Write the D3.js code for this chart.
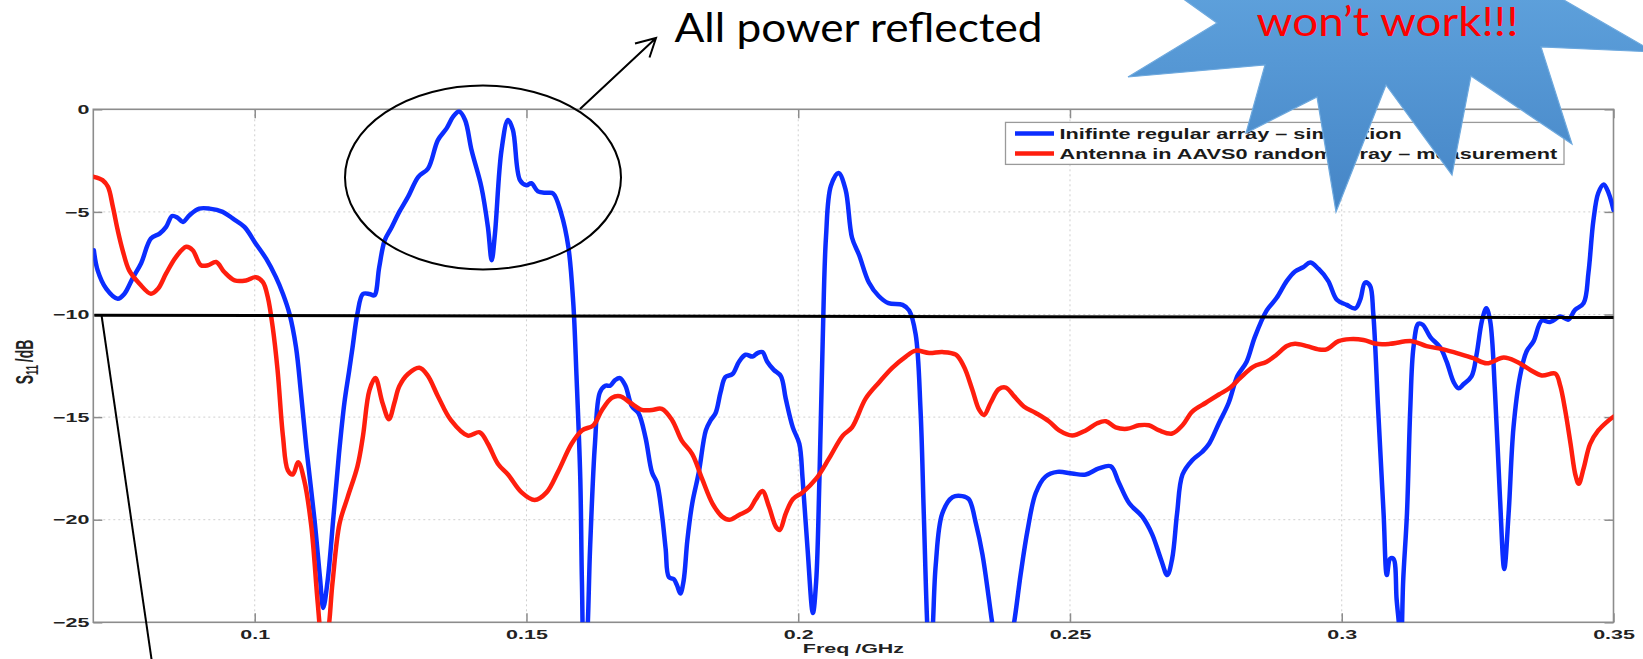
<!DOCTYPE html>
<html>
<head>
<meta charset="utf-8">
<script src="https://cdn.jsdelivr.net/npm/d3@7"></script>
<style>
  html, body { margin: 0; padding: 0; background: #fff; }
  svg { display: block; }
</style>
</head>
<body>
<script>
// ---- data: return loss S11 (dB) versus frequency (GHz) ----
const freqSim = [0.0704,0.0711,0.0727,0.0748,0.0760,0.0776,0.0791,0.0809,0.0825,0.0837,0.0848,0.0858,0.0868,0.0880,0.0898,0.0917,0.0941,0.0960,0.0981,0.1002,0.1021,0.1039,0.1052,0.1064,0.1076,0.1085,0.1095,0.1110,0.1120,0.1126,0.1134,0.1145,0.1155,0.1165,0.1174,0.1180,0.1189,0.1199,0.1211,0.1220,0.1229,0.1239,0.1251,0.1266,0.1282,0.1301,0.1319,0.1337,0.1353,0.1365,0.1376,0.1387,0.1399,0.1417,0.1429,0.1436,0.1442,0.1454,0.1466,0.1475,0.1488,0.1500,0.1509,0.1521,0.1537,0.1549,0.1564,0.1577,0.1586,0.1592,0.1599,0.1602,0.1606,0.1611,0.1617,0.1626,0.1635,0.1645,0.1654,0.1663,0.1672,0.1682,0.1694,0.1706,0.1719,0.1731,0.1740,0.1749,0.1756,0.1762,0.1771,0.1777,0.1783,0.1789,0.1796,0.1805,0.1817,0.1830,0.1839,0.1848,0.1857,0.1866,0.1879,0.1891,0.1903,0.1916,0.1925,0.1934,0.1943,0.1955,0.1968,0.1977,0.1990,0.2002,0.2008,0.2017,0.2027,0.2033,0.2039,0.2045,0.2051,0.2060,0.2074,0.2087,0.2099,0.2112,0.2130,0.2148,0.2166,0.2192,0.2204,0.2216,0.2225,0.2231,0.2238,0.2242,0.2247,0.2253,0.2265,0.2284,0.2302,0.2314,0.2327,0.2339,0.2351,0.2357,0.2377,0.2397,0.2409,0.2422,0.2437,0.2455,0.2477,0.2504,0.2529,0.2553,0.2575,0.2590,0.2609,0.2633,0.2651,0.2667,0.2679,0.2688,0.2697,0.2707,0.2725,0.2743,0.2756,0.2774,0.2792,0.2808,0.2825,0.2840,0.2862,0.2880,0.2899,0.2914,0.2929,0.2942,0.2957,0.2975,0.2991,0.3009,0.3025,0.3034,0.3043,0.3052,0.3058,0.3067,0.3077,0.3083,0.3089,0.3095,0.3101,0.3106,0.3109,0.3113,0.3120,0.3126,0.3132,0.3141,0.3149,0.3163,0.3181,0.3193,0.3206,0.3215,0.3224,0.3239,0.3248,0.3258,0.3266,0.3273,0.3282,0.3291,0.3299,0.3307,0.3316,0.3328,0.3340,0.3353,0.3368,0.3383,0.3402,0.3417,0.3429,0.3445,0.3454,0.3463,0.3472,0.3482,0.3491,0.3500];
const s11Sim = [-6.87,-7.85,-8.75,-9.23,-9.0,-8.2,-7.5,-6.3,-6.06,-5.73,-5.2,-5.28,-5.49,-5.16,-4.84,-4.84,-5.0,-5.33,-5.73,-6.55,-7.28,-8.18,-9.0,-9.97,-11.6,-13.8,-16.5,-20.0,-22.8,-24.3,-23.0,-19.8,-16.8,-14.3,-12.7,-11.6,-9.95,-9.0,-9.0,-9.07,-7.7,-6.4,-5.8,-5.0,-4.27,-3.29,-2.88,-1.5,-0.93,-0.36,-0.11,-0.52,-2.0,-3.78,-5.73,-7.36,-6.06,-2.0,-0.52,-1.0,-3.45,-3.7,-3.6,-4.0,-4.07,-4.1,-5.08,-6.7,-9.4,-12.97,-18.0,-23.0,-27.0,-26.0,-21.4,-16.3,-13.8,-13.47,-13.47,-13.2,-13.1,-13.47,-14.48,-14.8,-16.0,-17.7,-18.2,-19.7,-21.4,-22.8,-22.9,-23.2,-23.6,-23.0,-21.0,-19.2,-17.7,-15.65,-15.15,-14.8,-13.8,-13.05,-12.9,-12.3,-11.96,-12.05,-11.88,-11.83,-12.3,-12.7,-13.0,-14.1,-15.5,-16.3,-18.0,-21.36,-24.55,-23.0,-18.0,-11.3,-6.26,-3.74,-3.1,-3.9,-6.26,-7.1,-8.44,-9.1,-9.45,-9.53,-9.8,-10.96,-14.65,-19.7,-25.5,-27.0,-25.5,-22.2,-19.7,-18.9,-18.85,-19.0,-20.2,-21.7,-23.9,-25.05,-28.0,-25.05,-22.7,-20.5,-18.7,-17.9,-17.67,-17.75,-17.8,-17.5,-17.4,-18.2,-19.2,-19.85,-20.7,-21.9,-22.7,-21.9,-19.7,-17.8,-17.1,-16.7,-16.3,-15.3,-14.3,-13.0,-12.3,-11.1,-9.8,-9.2,-8.36,-7.9,-7.7,-7.47,-7.77,-8.36,-9.28,-9.53,-9.7,-9.28,-8.44,-8.6,-9.95,-14.65,-19.7,-22.7,-21.9,-21.9,-23.9,-25.3,-26.5,-23.0,-19.7,-14.65,-11.6,-10.45,-10.5,-11.1,-11.6,-12.3,-13.3,-13.6,-13.4,-13.0,-11.96,-10.3,-9.7,-10.3,-13.8,-18.85,-22.4,-19.7,-15.5,-13.0,-11.8,-11.3,-10.3,-10.37,-10.1,-10.25,-9.78,-9.45,-7.94,-5.42,-4.08,-3.66,-4.08,-4.9];

const freqMeas = [0.0704,0.0720,0.0730,0.0739,0.0748,0.0757,0.0769,0.0788,0.0809,0.0822,0.0837,0.0855,0.0874,0.0886,0.0901,0.0914,0.0929,0.0944,0.0963,0.0984,0.1002,0.1015,0.1024,0.1033,0.1042,0.1052,0.1061,0.1070,0.1080,0.1091,0.1104,0.1116,0.1122,0.1128,0.1134,0.1143,0.1156,0.1171,0.1189,0.1199,0.1211,0.1222,0.1235,0.1247,0.1257,0.1266,0.1282,0.1303,0.1318,0.1337,0.1361,0.1392,0.1414,0.1429,0.1448,0.1466,0.1491,0.1515,0.1537,0.1558,0.1583,0.1602,0.1623,0.1639,0.1657,0.1672,0.1691,0.1712,0.1731,0.1749,0.1768,0.1786,0.1805,0.1823,0.1842,0.1860,0.1873,0.1891,0.1910,0.1922,0.1934,0.1946,0.1959,0.1966,0.1977,0.1990,0.2008,0.2033,0.2057,0.2082,0.2099,0.2124,0.2149,0.2173,0.2198,0.2216,0.2241,0.2265,0.2290,0.2305,0.2320,0.2333,0.2342,0.2354,0.2369,0.2382,0.2397,0.2415,0.2437,0.2461,0.2480,0.2504,0.2529,0.2550,0.2566,0.2584,0.2605,0.2627,0.2645,0.2664,0.2688,0.2707,0.2725,0.2750,0.2774,0.2795,0.2813,0.2837,0.2862,0.2880,0.2899,0.2914,0.2936,0.2957,0.2972,0.2994,0.3015,0.3040,0.3064,0.3089,0.3129,0.3156,0.3187,0.3218,0.3242,0.3267,0.3298,0.3322,0.3347,0.3368,0.3393,0.3402,0.3411,0.3421,0.3430,0.3436,0.3445,0.3457,0.3472,0.3488,0.3500];
const s11Meas = [-3.29,-3.45,-3.78,-4.75,-5.9,-6.87,-7.85,-8.5,-8.99,-8.75,-8.0,-7.2,-6.7,-6.87,-7.6,-7.6,-7.44,-7.93,-8.34,-8.34,-8.18,-8.42,-9.15,-10.6,-12.7,-15.95,-17.6,-17.8,-17.2,-18.07,-20.3,-24.07,-25.6,-26.0,-25.6,-23.1,-20.2,-18.9,-17.4,-15.95,-13.7,-13.1,-14.3,-15.1,-14.3,-13.5,-12.9,-12.6,-12.97,-13.98,-15.15,-15.9,-15.74,-16.3,-17.3,-17.8,-18.67,-19.04,-18.67,-17.67,-16.3,-15.65,-15.4,-14.65,-14.06,-13.98,-14.3,-14.65,-14.65,-14.6,-15.15,-16.16,-16.8,-18.0,-19.2,-19.85,-20.0,-19.77,-19.5,-19.0,-18.6,-19.35,-20.35,-20.5,-19.7,-19.0,-18.67,-18.0,-17.0,-15.9,-15.5,-14.1,-13.3,-12.6,-12.05,-11.76,-11.88,-11.83,-11.96,-12.55,-13.64,-14.65,-14.9,-14.3,-13.64,-13.56,-13.98,-14.48,-14.8,-15.2,-15.65,-15.9,-15.65,-15.3,-15.2,-15.5,-15.57,-15.4,-15.4,-15.65,-15.8,-15.4,-14.73,-14.3,-13.9,-13.56,-13.1,-12.55,-12.3,-11.96,-11.54,-11.43,-11.54,-11.7,-11.7,-11.3,-11.2,-11.24,-11.43,-11.43,-11.3,-11.54,-11.7,-11.93,-12.13,-12.38,-12.1,-12.3,-12.7,-12.97,-12.88,-13.47,-14.65,-16.3,-17.83,-18.25,-17.5,-16.3,-15.65,-15.23,-14.98];

const seriesNames = ["Inifinte regular array \u2013 simulation", "Antenna in AAVS0 random array \u2013 measurement"];
const seriesColors = ["#0b2dff", "#ff1e0e"];
const xTickValues = [0.1, 0.15, 0.2, 0.25, 0.3, 0.35];
const xGridValues = [0.1, 0.15, 0.2, 0.25, 0.3];
const yTickValues = [0, -5, -10, -15, -20, -25];
const yGridValues = [-5, -10, -15, -20];
const xDomain = [0.0703, 0.35];
const yDomain = [-25, 0];
const thresholdDb = -10;

// ---- layout ----
const W = 1643, H = 659;
const plot = { left: 93.3, right: 1613.5, top: 109.3, bottom: 622.3 };
const stretch = 1.65;           // the figure's lettering is widened horizontally
const axisFont = "'Liberation Sans', Arial, Helvetica, sans-serif";

const svg = d3.select("body").append("svg")
  .attr("width", W).attr("height", H)
  .attr("viewBox", `0 0 ${W} ${H}`);

const defs = svg.append("defs");
defs.append("clipPath").attr("id", "plotClip")
  .append("rect")
  .attr("x", plot.left).attr("y", plot.top)
  .attr("width", plot.right - plot.left).attr("height", plot.bottom - plot.top);

const starGrad = defs.append("linearGradient").attr("id", "starFill")
  .attr("x1", 0).attr("y1", 0).attr("x2", 0).attr("y2", 1);
starGrad.append("stop").attr("offset", "0%").attr("stop-color", "#5ea1dc");
starGrad.append("stop").attr("offset", "100%").attr("stop-color", "#4585c6");

const x = d3.scaleLinear().domain(xDomain).range([plot.left, plot.right]);
const y = d3.scaleLinear().domain(yDomain).range([plot.bottom, plot.top]);

svg.append("rect").attr("width", W).attr("height", H).attr("fill", "#fff");

// ---- grid ----
const grid = svg.append("g").attr("stroke", "#cfcfcf").attr("stroke-width", 1)
  .attr("stroke-dasharray", "2,3");
grid.selectAll("line.gx").data(xGridValues).join("line").attr("class", "gx")
  .attr("x1", d => x(d)).attr("x2", d => x(d))
  .attr("y1", plot.top).attr("y2", plot.bottom);
grid.selectAll("line.gy").data(yGridValues).join("line").attr("class", "gy")
  .attr("x1", plot.left).attr("x2", plot.right)
  .attr("y1", d => y(d)).attr("y2", d => y(d));

// ---- axes (inward ticks on all four sides) ----
const tickLen = 9;
const fmtX = d => String(d);
const gBottom = svg.append("g").attr("transform", `translate(0,${plot.bottom})`)
  .call(d3.axisBottom(x).tickValues(xTickValues).tickFormat(fmtX)
    .tickSizeInner(-tickLen).tickSizeOuter(0).tickPadding(7));
const gLeft = svg.append("g").attr("transform", `translate(${plot.left},0)`)
  .call(d3.axisLeft(y).tickValues(yTickValues)
    .tickSizeInner(-tickLen).tickSizeOuter(0).tickPadding(4 / stretch));
const gTop = svg.append("g").attr("transform", `translate(0,${plot.top})`)
  .call(d3.axisTop(x).tickValues(xTickValues).tickFormat("")
    .tickSizeInner(-tickLen).tickSizeOuter(0));
const gRight = svg.append("g").attr("transform", `translate(${plot.right},0)`)
  .call(d3.axisRight(y).tickValues(yTickValues).tickFormat("")
    .tickSizeInner(-tickLen).tickSizeOuter(0));

[gBottom, gLeft, gTop, gRight].forEach(g => {
  g.select(".domain").remove();
  g.selectAll(".tick line").attr("stroke", "#8c8c8c").attr("stroke-width", 1.5);
  g.selectAll(".tick text")
    .attr("fill", "#222")
    .attr("font-family", axisFont)
    .attr("font-weight", "bold")
    .attr("font-size", 13)
    .attr("transform", `scale(${stretch},1)`);
});

// box
svg.append("rect")
  .attr("x", plot.left).attr("y", plot.top)
  .attr("width", plot.right - plot.left).attr("height", plot.bottom - plot.top)
  .attr("fill", "none").attr("stroke", "#8c8c8c").attr("stroke-width", 1.6);

// axis titles
svg.append("text")
  .attr("transform", `translate(${(plot.left + plot.right) / 2},653) scale(${stretch},1)`)
  .attr("text-anchor", "middle")
  .attr("font-family", axisFont).attr("font-weight", "bold").attr("font-size", 13)
  .attr("fill", "#222")
  .text("Freq /GHz");

const yTitle = svg.append("text")
  .attr("transform", `translate(33,362) scale(${stretch},1) rotate(-90)`)
  .attr("text-anchor", "middle")
  .attr("font-family", axisFont).attr("font-weight", "bold").attr("font-size", 14)
  .attr("fill", "#222");
yTitle.append("tspan").text("S");
yTitle.append("tspan").attr("font-size", 9.5).attr("dy", 3).text("11");
yTitle.append("tspan").attr("dy", -3).text("\u2009/dB");

// ---- curves ----
const line = d3.line()
  .x(d => x(d[0])).y(d => y(d[1]))
  .curve(d3.curveCatmullRom.alpha(0.5));

const series = [
  d3.zip(freqSim, s11Sim),
  d3.zip(freqMeas, s11Meas)
];

const curves = svg.append("g").attr("clip-path", "url(#plotClip)");
curves.selectAll("path").data(series).join("path")
  .attr("d", line)
  .attr("fill", "none")
  .attr("stroke", (d, i) => seriesColors[i])
  .attr("stroke-width", 4.5)
  .attr("stroke-linejoin", "round")
  .attr("stroke-linecap", "round");

// ---- legend ----
const legend = svg.append("g");
legend.append("rect")
  .attr("x", 1005.5).attr("y", 122.4).attr("width", 558.5).attr("height", 42)
  .attr("fill", "#fff").attr("stroke", "#9a9a9a").attr("stroke-width", 1.3);
const legRows = legend.selectAll("g.row").data(seriesNames).join("g")
  .attr("class", "row")
  .attr("transform", (d, i) => `translate(0,${133.5 + i * 20})`);
legRows.append("line")
  .attr("x1", 1015).attr("x2", 1054)
  .attr("stroke", (d, i) => seriesColors[i]).attr("stroke-width", 4.5);
legRows.append("text")
  .attr("transform", `translate(1059.5,5.4) scale(1.55,1)`)
  .attr("font-family", axisFont).attr("font-weight", "bold").attr("font-size", 14)
  .attr("fill", "#1a1a1a")
  .text(d => d);

// ---- -10 dB threshold marker and pointer ----
svg.append("line")
  .attr("x1", plot.left + 1).attr("y1", y(thresholdDb) + 0.8)
  .attr("x2", plot.right).attr("y2", y(thresholdDb) + 3.1)
  .attr("stroke", "#000").attr("stroke-width", 3);
svg.append("line")
  .attr("x1", 101.5).attr("y1", y(thresholdDb) + 0.5)
  .attr("x2", 156).attr("y2", 690)
  .attr("stroke", "#000").attr("stroke-width", 2);

// ---- callout: circled peaks with arrow ----
svg.append("ellipse")
  .attr("cx", 483).attr("cy", 177.5).attr("rx", 138).attr("ry", 92)
  .attr("fill", "none").attr("stroke", "#000").attr("stroke-width", 2);
svg.append("path")
  .attr("d", "M580,109 L656,38 M635,43.5 L656,38 L649.5,57.5")
  .attr("fill", "none").attr("stroke", "#000").attr("stroke-width", 2)
  .attr("stroke-linejoin", "miter");
svg.append("text")
  .attr("x", 674.5).attr("y", 42.3)
  .attr("font-family", "Lato, 'Open Sans', sans-serif").attr("font-size", 41)
  .attr("textLength", 368).attr("lengthAdjust", "spacingAndGlyphs")
  .attr("fill", "#000")
  .text("All power reflected");

// ---- starburst callout ----
const starPts = [[1168,-12],[1217,23],[1128,77],[1265,65],[1246,133],[1317,97],[1336,212],
  [1386,85],[1452,175],[1471,76],[1572,144],[1541,47],[1654,52],[1543,-12]];
svg.append("polygon")
  .attr("points", starPts.map(p => p.join(",")).join(" "))
  .attr("fill", "url(#starFill)")
  .attr("stroke", "#6ea9de").attr("stroke-width", 1.2)
  .attr("stroke-linejoin", "miter");
svg.append("text")
  .attr("x", 1256.5).attr("y", 36)
  .attr("font-family", "Lato, 'Open Sans', sans-serif").attr("font-size", 41)
  .attr("textLength", 262).attr("lengthAdjust", "spacingAndGlyphs")
  .attr("fill", "#ff0000")
  .text("won\u2019t work!!!");
</script>
</body>
</html>
